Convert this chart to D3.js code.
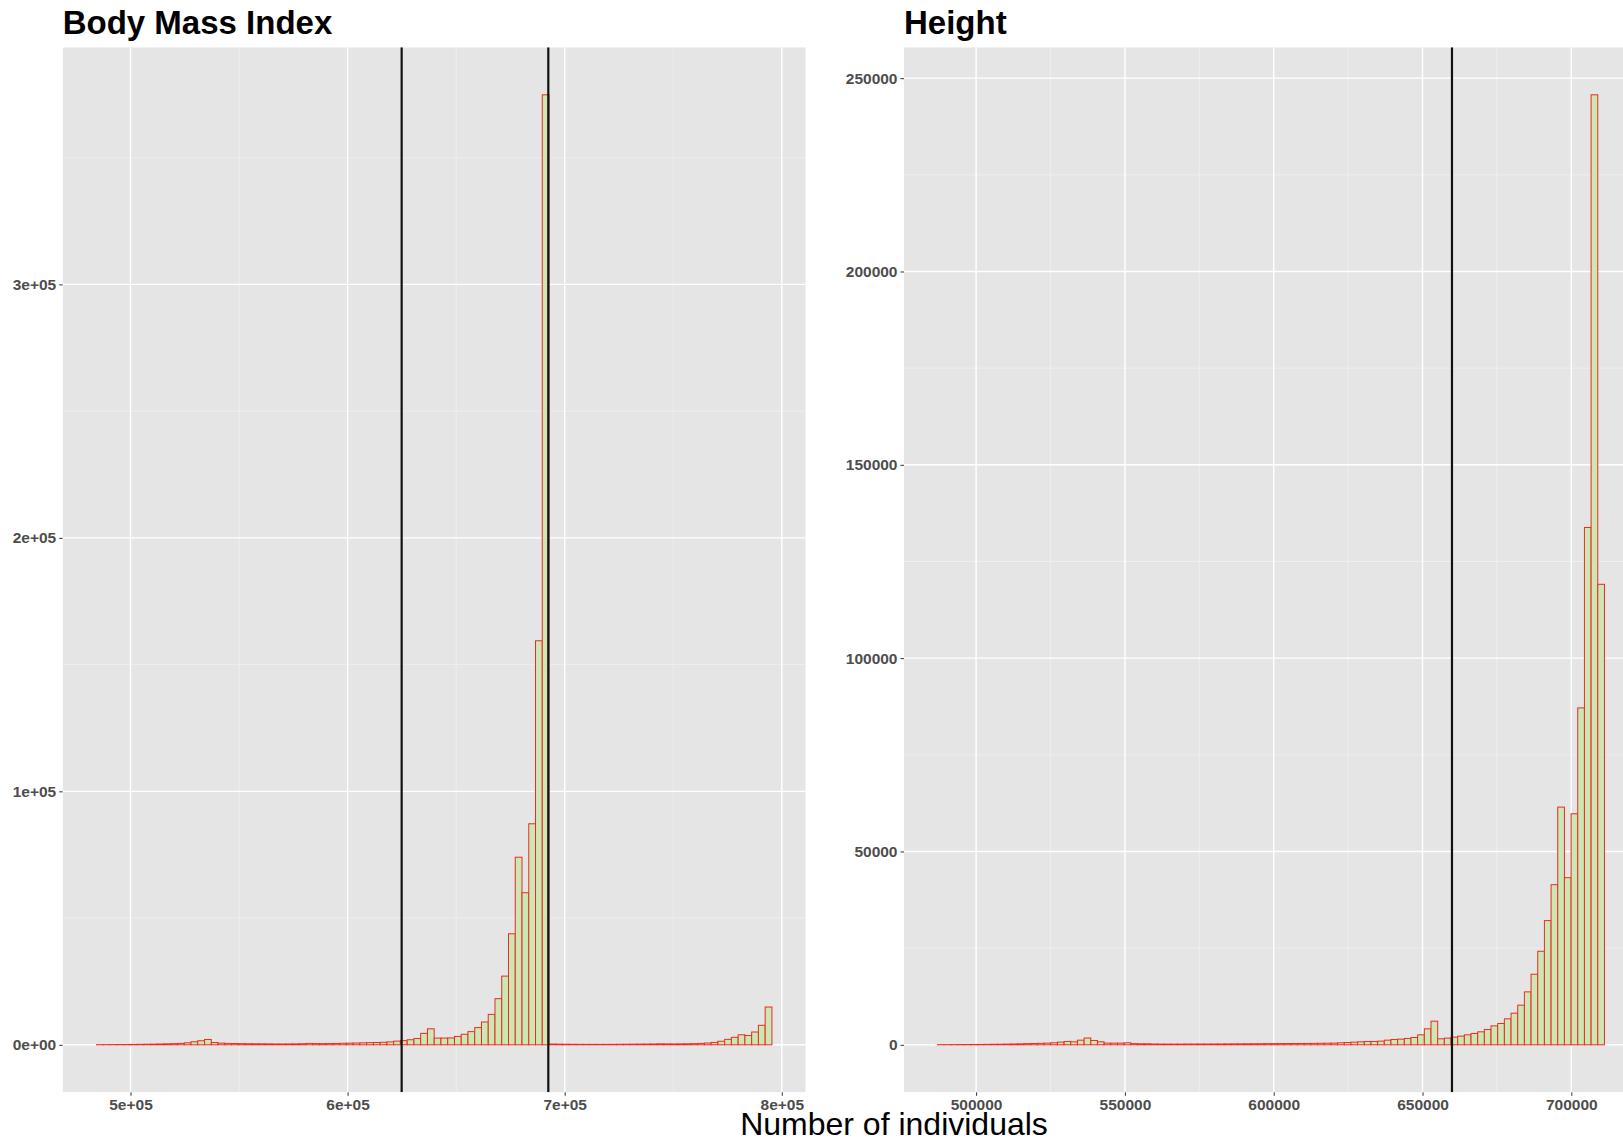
<!DOCTYPE html>
<html>
<head>
<meta charset="utf-8">
<script src="https://cdn.jsdelivr.net/npm/d3@7"></script>
<style>
  body { margin: 0; background: #fff; overflow: hidden; }
  svg { display: block; font-family: "Liberation Sans", Arial, sans-serif; }
</style>
</head>
<body>
<svg id="chart"></svg>
<script>
// Body Mass Index histogram (100 bins)
const bmiCounts = [
  50, 60, 80, 100, 120, 150, 180, 220, 260, 320,
  380, 450, 550, 800, 1200, 1600, 2100, 900, 650, 550,
  500, 450, 420, 400, 380, 350, 330, 320, 330, 360,
  420, 550, 480, 450, 480, 520, 600, 650, 700, 780,
  850, 900, 1000, 1150, 1450, 1650, 2000, 2500, 4500, 6300,
  2650, 2650, 2700, 3300, 4150, 5200, 6800, 9000, 12000, 18200,
  27100, 43800, 74000, 60000, 87200, 159400, 374800, 300, 250, 220,
  200, 180, 170, 160, 160, 170, 180, 200, 220, 250,
  280, 300, 320, 380, 350, 330, 360, 400, 450, 550,
  700, 950, 1400, 2150, 2950, 3950, 3650, 5050, 7700, 14900
];
const bmiBinStart = 484326;
const bmiBinWidth = 3111.3;
const bmiCutoffs = [624900, 692450];
const bmiXTicks = [500000, 600000, 700000, 800000];
const bmiXLabels = ["5e+05", "6e+05", "7e+05", "8e+05"];
const bmiYTicks = [0, 100000, 200000, 300000];
const bmiYLabels = ["0e+00", "1e+05", "2e+05", "3e+05"];

// Height histogram (100 bins)
const heightCounts = [
  30, 40, 50, 60, 70, 80, 90, 110, 130, 150,
  180, 210, 250, 300, 340, 380, 430, 520, 690, 860,
  775, 1200, 1750, 1120, 775, 430, 430, 430, 520, 300,
  260, 260, 200, 190, 180, 180, 180, 190, 190, 200,
  200, 210, 220, 230, 240, 250, 260, 270, 280, 290,
  300, 310, 320, 330, 340, 350, 370, 390, 410, 430,
  520, 600, 690, 775, 860, 860, 950, 1200, 1380, 1460,
  1640, 1890, 2580, 4130, 6110, 1550, 1720, 1980, 2240, 2580,
  2930, 3360, 3960, 4900, 5510, 6720, 8180, 10250, 13690, 18250,
  24190, 32120, 41410, 61480, 43220, 59750, 87130, 133800, 245700, 119100
];
const heightBinStart = 486980;
const heightBinWidth = 2241.5;
const heightCutoffs = [659900];
const heightXTicks = [500000, 550000, 600000, 650000, 700000];
const heightXLabels = ["500000", "550000", "600000", "650000", "700000"];
const heightYTicks = [0, 50000, 100000, 150000, 200000, 250000];
const heightYLabels = ["0", "50000", "100000", "150000", "200000", "250000"];

const width = 1623, height = 1141;
const svg = d3.select('#chart').attr('width', width).attr('height', height);

function drawPanel(p) {
  const { counts, binStart, binWidth, cutoffs, xTicks, xLabels, yTicks, yLabels, title, left, right, top, bottom } = p;
  const n = counts.length;
  const xMin = binStart, xMax = binStart + n * binWidth;
  const xPad = (xMax - xMin) * 0.05;
  const yMax = d3.max(counts);

  const x = d3.scaleLinear().domain([xMin - xPad, xMax + xPad]).range([left, right]);
  const y = d3.scaleLinear().domain([-0.05 * yMax, 1.05 * yMax]).range([bottom, top]);

  const clipId = 'clip-' + title.replace(/\s+/g, '');
  svg.append('clipPath').attr('id', clipId)
    .append('rect').attr('x', left).attr('y', top).attr('width', right - left).attr('height', bottom - top);

  const g = svg.append('g').attr('clip-path', `url(#${clipId})`);
  g.append('rect')
    .attr('x', left).attr('y', top)
    .attr('width', right - left).attr('height', bottom - top)
    .attr('fill', '#e5e5e5');

  // minor grid: halfway between majors
  const xStep = xTicks[1] - xTicks[0], yStep = yTicks[1] - yTicks[0];
  const xMinor = d3.range(xTicks[0] - xStep / 2, x.domain()[1], xStep).filter(v => v > x.domain()[0]);
  const yMinor = d3.range(yTicks[0] - yStep / 2, y.domain()[1], yStep).filter(v => v > y.domain()[0]);

  g.selectAll('.xminor').data(xMinor).enter().append('line')
    .attr('x1', d => x(d)).attr('x2', d => x(d)).attr('y1', top).attr('y2', bottom)
    .attr('stroke', '#f2f2f2').attr('stroke-width', 0.7);
  g.selectAll('.yminor').data(yMinor).enter().append('line')
    .attr('y1', d => y(d)).attr('y2', d => y(d)).attr('x1', left).attr('x2', right)
    .attr('stroke', '#f2f2f2').attr('stroke-width', 0.7);
  g.selectAll('.xmajor').data(xTicks).enter().append('line')
    .attr('x1', d => x(d)).attr('x2', d => x(d)).attr('y1', top).attr('y2', bottom)
    .attr('stroke', '#ffffff').attr('stroke-width', 1.4);
  g.selectAll('.ymajor').data(yTicks).enter().append('line')
    .attr('y1', d => y(d)).attr('y2', d => y(d)).attr('x1', left).attr('x2', right)
    .attr('stroke', '#ffffff').attr('stroke-width', 1.4);

  // bars
  g.selectAll('.bar').data(counts).enter().append('rect')
    .attr('x', (d, i) => x(binStart + i * binWidth))
    .attr('width', (d, i) => x(binStart + (i + 1) * binWidth) - x(binStart + i * binWidth))
    .attr('y', d => y(d))
    .attr('height', d => y(0) - y(d))
    .attr('fill', '#cbe7b4')
    .attr('stroke', '#ee2a22')
    .attr('stroke-width', 1);

  // cutoff lines
  g.selectAll('.cut').data(cutoffs).enter().append('line')
    .attr('x1', d => x(d)).attr('x2', d => x(d)).attr('y1', top).attr('y2', bottom)
    .attr('stroke', '#111').attr('stroke-width', 2.2);

  // axes
  const styleAxis = sel => {
    sel.select('.domain').remove();
    sel.selectAll('.tick line').attr('stroke', '#333').attr('stroke-width', 1);
    sel.selectAll('.tick text')
      .attr('fill', '#4d4d4d')
      .style('font-size', '15.5px')
      .style('font-weight', 'bold')
      .style('font-family', '"Liberation Sans", Arial, sans-serif');
  };
  svg.append('g').attr('transform', `translate(0,${bottom})`)
    .call(d3.axisBottom(x).tickValues(xTicks).tickFormat((d, i) => xLabels[i]).tickSize(3.5).tickPadding(3))
    .call(styleAxis);
  svg.append('g').attr('transform', `translate(${left},0)`)
    .call(d3.axisLeft(y).tickValues(yTicks).tickFormat((d, i) => yLabels[i]).tickSize(3.5).tickPadding(3))
    .call(styleAxis);

  svg.append('text')
    .attr('x', left).attr('y', 34)
    .attr('fill', '#000')
    .style('font-size', '33px').style('font-weight', 'bold')
    .text(title);
}

drawPanel({
  counts: bmiCounts, binStart: bmiBinStart, binWidth: bmiBinWidth, cutoffs: bmiCutoffs,
  xTicks: bmiXTicks, xLabels: bmiXLabels, yTicks: bmiYTicks, yLabels: bmiYLabels,
  title: 'Body Mass Index', left: 62.7, right: 805.7, top: 47.3, bottom: 1092.3
});

drawPanel({
  counts: heightCounts, binStart: heightBinStart, binWidth: heightBinWidth, cutoffs: heightCutoffs,
  xTicks: heightXTicks, xLabels: heightXLabels, yTicks: heightYTicks, yLabels: heightYLabels,
  title: 'Height', left: 904, right: 1637.8, top: 47.3, bottom: 1092.3
});

svg.append('text')
  .attr('x', 894).attr('y', 1135)
  .attr('text-anchor', 'middle')
  .attr('fill', '#000')
  .style('font-size', '32px')
  .text('Number of individuals');
</script>
</body>
</html>
